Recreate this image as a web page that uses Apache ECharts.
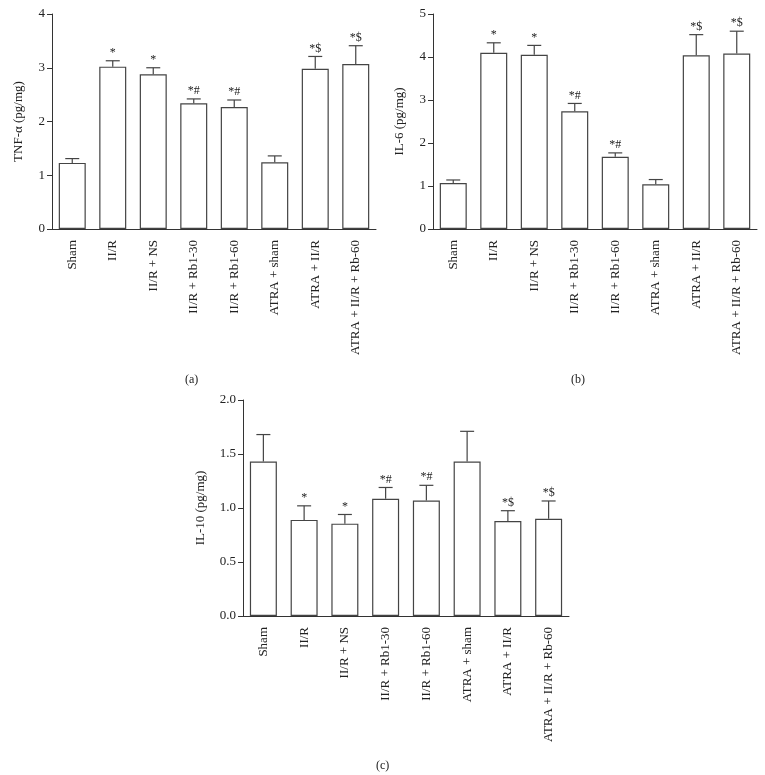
<!DOCTYPE html>
<html>
<head>
<meta charset="utf-8">
<script src="https://cdn.jsdelivr.net/npm/echarts@6/dist/echarts.min.js"></script>
<style>
  html, body { margin: 0; padding: 0; background: #fff; }
  #chart { width: 765px; height: 775px; }
</style>
</head>
<body>
<div id="chart"></div>
<script>
const categories = ['Sham', 'II/R', 'II/R + NS', 'II/R + Rb1-30', 'II/R + Rb1-60', 'ATRA + sham', 'ATRA + II/R', 'ATRA + II/R + Rb-60']
const marks = ['', '*', '*', '*#', '*#', '', '*$', '*$']

// (a) TNF-α
const tnfMean = [1.23, 3.02, 2.88, 2.34, 2.27, 1.24, 2.98, 3.07]
const tnfErr = [0.08, 0.11, 0.12, 0.08, 0.13, 0.12, 0.23, 0.34]
// (b) IL-6
const il6Mean = [1.07, 4.10, 4.05, 2.74, 1.68, 1.04, 4.04, 4.08]
const il6Err = [0.07, 0.23, 0.22, 0.18, 0.09, 0.11, 0.48, 0.52]
// (c) IL-10
const il10Mean = [1.43, 0.89, 0.855, 1.085, 1.07, 1.43, 0.88, 0.90]
const il10Err = [0.25, 0.13, 0.085, 0.105, 0.14, 0.28, 0.095, 0.165]

const FONT = 'Liberation Serif'
const INK = '#333'

const chart = echarts.init(document.getElementById('chart'), null, { renderer: 'canvas' })

function xAxisFor (gridIndex) {
  return {
    type: 'category',
    gridIndex,
    data: categories,
    axisLine: { lineStyle: { color: INK, width: 1 } },
    axisTick: { alignWithLabel: true, length: 5, lineStyle: { color: INK } },
    axisLabel: { rotate: 90, margin: 11, color: '#222', fontFamily: FONT, fontSize: 13, interval: 0 }
  }
}

function yAxisFor (gridIndex, name, max, interval, nameGap, digits) {
  return {
    type: 'value',
    gridIndex,
    min: 0,
    max,
    interval,
    name,
    nameLocation: 'middle',
    nameGap,
    nameTextStyle: { color: '#222', fontFamily: FONT, fontSize: 13 },
    axisLine: { show: true, lineStyle: { color: INK, width: 1 } },
    axisTick: { show: true, length: 5, lineStyle: { color: INK } },
    axisLabel: { color: '#222', fontFamily: FONT, fontSize: 13, margin: 7, formatter: v => v.toFixed(digits) },
    splitLine: { show: false }
  }
}

function barSeries (idx, values) {
  return {
    type: 'bar',
    xAxisIndex: idx,
    yAxisIndex: idx,
    data: values,
    barWidth: 27,
    itemStyle: { color: '#fff', borderColor: '#444', borderWidth: 1.2 },
    silent: true
  }
}

function errSeries (idx, means, errs) {
  return {
    type: 'custom',
    xAxisIndex: idx,
    yAxisIndex: idx,
    silent: true,
    z: 3,
    data: means.map((m, i) => [i, m, m + errs[i]]),
    renderItem: (params, api) => {
      const base = api.coord([api.value(0), api.value(1)])
      const top = api.coord([api.value(0), api.value(2)])
      const half = 7
      const style = { stroke: '#444', lineWidth: 1.2 }
      return {
        type: 'group',
        children: [
          { type: 'line', shape: { x1: base[0], y1: base[1], x2: top[0], y2: top[1] }, style },
          { type: 'line', shape: { x1: top[0] - half, y1: top[1], x2: top[0] + half, y2: top[1] }, style },
          {
            type: 'text',
            style: {
              x: top[0],
              y: top[1] - 2,
              text: marks[params.dataIndex],
              align: 'center',
              verticalAlign: 'bottom',
              fill: '#222',
              font: '12px "Liberation Serif"'
            }
          }
        ]
      }
    }
  }
}

const option = {
  backgroundColor: '#fff',
  animation: false,
  title: [
    { text: '(a)', left: 180, top: 369, textStyle: { fontFamily: FONT, fontSize: 12, fontWeight: 'normal', color: '#222' } },
    { text: '(b)', left: 566, top: 369, textStyle: { fontFamily: FONT, fontSize: 12, fontWeight: 'normal', color: '#222' } },
    { text: '(c)', left: 371, top: 755, textStyle: { fontFamily: FONT, fontSize: 12, fontWeight: 'normal', color: '#222' } }
  ],
  grid: [
    { left: 52, width: 324, top: 14, height: 215 },
    { left: 433, width: 324, top: 14, height: 215 },
    { left: 243, width: 326, top: 400, height: 216 }
  ],
  xAxis: [xAxisFor(0), xAxisFor(1), xAxisFor(2)],
  yAxis: [
    yAxisFor(0, 'TNF-α (pg/mg)', 4, 1, 27, 0),
    yAxisFor(1, 'IL-6 (pg/mg)', 5, 1, 27, 0),
    yAxisFor(2, 'IL-10 (pg/mg)', 2, 0.5, 36, 1)
  ],
  series: [
    barSeries(0, tnfMean), errSeries(0, tnfMean, tnfErr),
    barSeries(1, il6Mean), errSeries(1, il6Mean, il6Err),
    barSeries(2, il10Mean), errSeries(2, il10Mean, il10Err)
  ]
}

chart.setOption(option)
</script>
</body>
</html>
